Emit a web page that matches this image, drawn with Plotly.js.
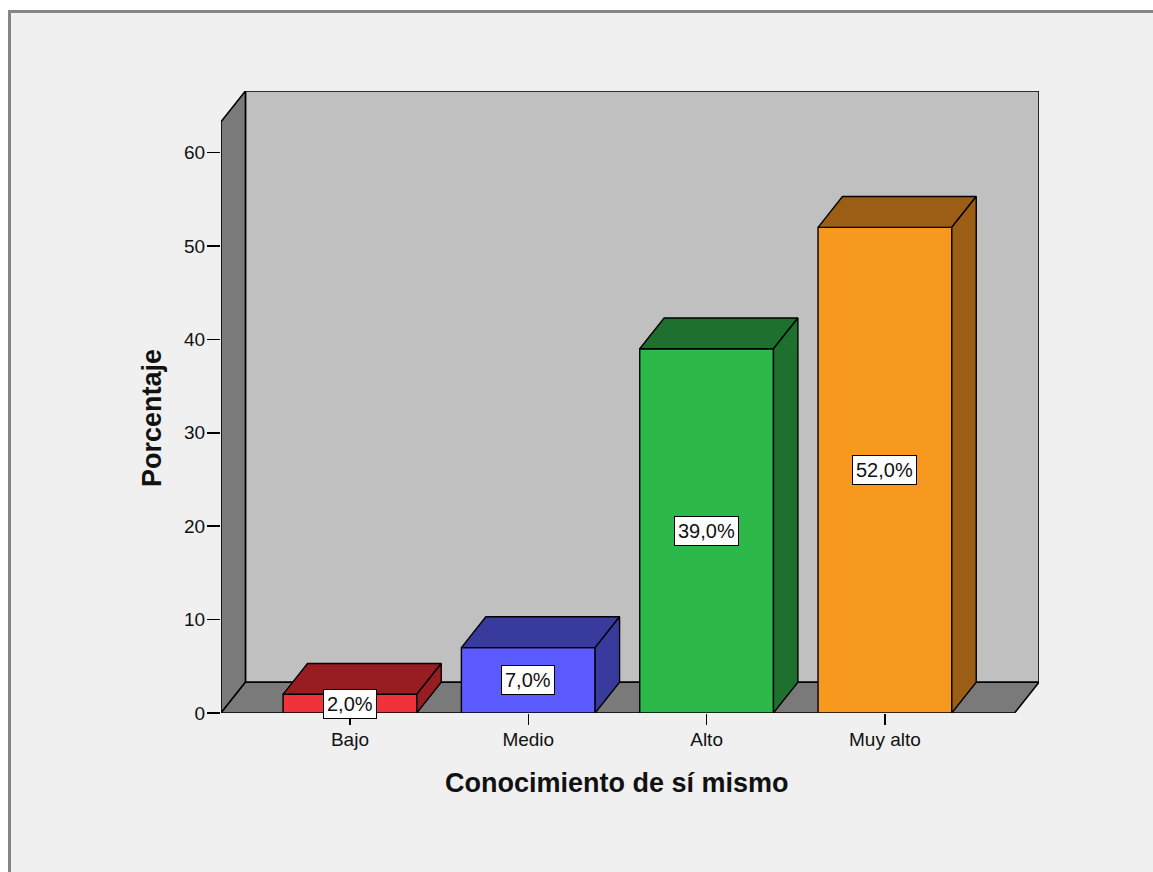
<!DOCTYPE html>
<html>
<head>
<meta charset="utf-8">
<script src="https://cdn.plot.ly/plotly-3.0.1.min.js"></script>
<style>
  html, body { margin: 0; padding: 0; background: #ffffff; width: 1153px; height: 872px; overflow: hidden; }
  #frame { position: absolute; left: 8px; top: 10px; width: 1160px; height: 880px;
           border-top: 3px solid #858585; border-left: 3px solid #858585; background: #f0f0f0; }
  #chart { position: absolute; left: 0; top: 0; width: 1153px; height: 872px; }
</style>
</head>
<body>
<div id="frame"></div>
<div id="chart"></div>
<script>
// ---- data ----
const categories = ["Bajo", "Medio", "Alto", "Muy alto"];
const percentages = [2.0, 7.0, 39.0, 52.0];
const frontColors = ["#f0323b", "#5b5bff", "#2db84a", "#f7991f"];
const darkColors  = ["#981d22", "#393a9e", "#1d702d", "#9b5e14"];
const yTickVals = [0, 10, 20, 30, 40, 50, 60];
const xTitle = "Conocimiento de sí mismo";
const yTitle = "Porcentaje";

// ---- layout constants (3D look) ----
const barWidth = 0.75;
const dx = 0.137;   // depth offset in x data units
const dy = 3.3;     // depth offset in y data units
const xMin = -0.723, xMax = 3.864;
const yMax = 66.6;

const idx = categories.map((_, i) => i);
const labels = percentages.map(v => v.toFixed(1).replace('.', ',') + '%');

const traces = [];
// front faces
traces.push({
  type: 'bar', x: idx, y: percentages, width: barWidth,
  marker: { color: frontColors, line: { color: '#000', width: 1.4 } },
  hoverinfo: 'skip', showlegend: false
});
// top and side faces built from the values
percentages.forEach((v, i) => {
  const x0 = i - barWidth / 2, x1 = i + barWidth / 2;
  traces.push({
    type: 'scatter', mode: 'lines', fill: 'toself', fillcolor: darkColors[i],
    x: [x0, x1, x1 + dx, x0 + dx, x0],
    y: [v, v, v + dy, v + dy, v],
    line: { color: '#000', width: 1.4 }, hoverinfo: 'skip', showlegend: false
  });
  traces.push({
    type: 'scatter', mode: 'lines', fill: 'toself', fillcolor: darkColors[i],
    x: [x1, x1, x1 + dx, x1 + dx, x1],
    y: [0, v, v + dy, dy, 0],
    line: { color: '#000', width: 1.4 }, hoverinfo: 'skip', showlegend: false
  });
});

const wallLine = { color: '#000', width: 1.6 };
const shapes = [
  // back wall
  { type: 'rect', xref: 'x', yref: 'y', layer: 'below',
    x0: xMin + dx, x1: xMax, y0: dy, y1: yMax, fillcolor: '#c0c0c0', line: wallLine },
  // left wall
  { type: 'path', xref: 'x', yref: 'y', layer: 'below',
    path: `M ${xMin} 0 L ${xMin} ${yMax - dy} L ${xMin + dx} ${yMax} L ${xMin + dx} ${dy} Z`,
    fillcolor: '#7a7a7a', line: wallLine },
  // floor
  { type: 'path', xref: 'x', yref: 'y', layer: 'below',
    path: `M ${xMin} 0 L ${xMin + dx} ${dy} L ${xMax} ${dy} L ${xMax - dx} 0 Z`,
    fillcolor: '#7a7a7a', line: wallLine }
];

const annotations = percentages.map((v, i) => ({
  x: i, y: v / 2, xref: 'x', yref: 'y', text: labels[i], showarrow: false,
  bgcolor: '#ffffff', bordercolor: '#000', borderwidth: 1, borderpad: 3,
  font: { family: 'Liberation Sans, Arial, sans-serif', size: 20, color: '#111' }
}));
// axis titles, centred on the front plane of the 3D frame
annotations.push({
  xref: 'paper', yref: 'paper', x: 0.4841, y: -0.1125, xanchor: 'center', yanchor: 'middle',
  text: '<b>' + xTitle + '</b>', showarrow: false,
  font: { family: 'Liberation Sans, Arial, sans-serif', size: 27, color: '#111' }
});
annotations.push({
  xref: 'paper', yref: 'paper', x: -0.0844, y: 0.4743, xanchor: 'center', yanchor: 'middle',
  text: '<b>' + yTitle + '</b>', textangle: -90, showarrow: false,
  font: { family: 'Liberation Sans, Arial, sans-serif', size: 27, color: '#111' }
});

const layout = {
  width: 1153, height: 872,
  margin: { l: 221, r: 114, t: 91, b: 159 },
  paper_bgcolor: 'rgba(0,0,0,0)', plot_bgcolor: 'rgba(0,0,0,0)',
  font: { family: 'Liberation Sans, Arial, sans-serif', size: 19, color: '#111' },
  showlegend: false,
  xaxis: {
    range: [xMin, xMax], tickmode: 'array', tickvals: idx, ticktext: categories,
    ticks: 'outside', ticklen: 11, tickwidth: 1.5, tickcolor: '#000', ticklabelstandoff: -2,
    showgrid: false, zeroline: false, showline: false, fixedrange: true
  },
  yaxis: {
    range: [0, yMax], tickmode: 'array', tickvals: yTickVals,
    ticks: 'outside', ticklen: 13, tickwidth: 1.5, tickcolor: '#000', ticklabelstandoff: -2,
    showgrid: false, zeroline: false, showline: false, fixedrange: true
  },
  shapes: shapes,
  annotations: annotations
};

Plotly.newPlot('chart', traces, layout, { displayModeBar: false, staticPlot: true });
</script>
</body>
</html>
